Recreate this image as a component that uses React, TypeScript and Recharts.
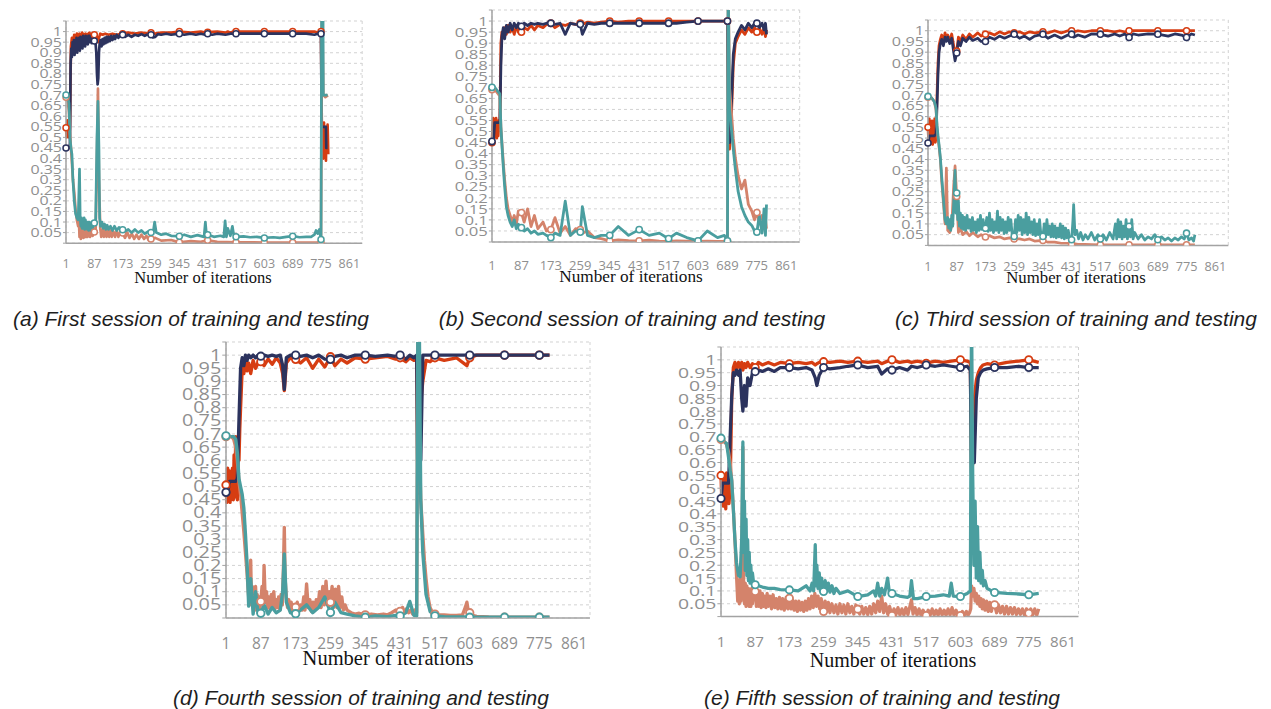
import React from "react"
import { LineChart, Line, XAxis, YAxis, CartesianGrid } from "recharts"

const ORANGE = "#d63d12"
const NAVY = "#2c335e"
const SALMON = "#d4836b"
const TEAL = "#4a9e9f"
const AXIS = "#a3a3a3"
const LABEL = "#8f8f8f"

// axis ticks shared by all five panels
const xLabels = [1, 87, 173, 259, 345, 431, 517, 603, 689, 775, 861]
const xGrid = [44, 130, 216, 302, 388, 474, 560, 646, 732, 818]
const markerIters = [1, 87, 173, 259, 345, 431, 517, 603, 689, 775]
const yTicks = [0, 0.05, 0.1, 0.15, 0.2, 0.25, 0.3, 0.35, 0.4, 0.45, 0.5, 0.55, 0.6, 0.65, 0.7, 0.75, 0.8, 0.85, 0.9, 0.95, 1, 1.05]

// (a) first session
const aIters = [1, 6, 10, 13, 16, 19, 22, 26, 30, 34, 38, 42, 46, 50, 55, 60, 66, 72, 78, 84, 87, 91, 95, 98, 101, 105, 112, 120, 130, 142, 155, 173, 190, 210, 230, 250, 259, 272, 290, 320, 345, 380, 410, 424, 431, 460, 485, 492, 500, 510, 517, 560, 603, 650, 689, 730, 755, 765, 775, 778, 782, 788, 791, 795]
const aTrainAcc = [
  0.545, 0.52, 0.57, 0.5, 0.93, 0.97, 0.95, 0.985, 0.96, 0.99,
  0.97, 0.99, 0.975, 0.995, 0.98, 0.99, 0.985, 0.995, 0.98, 0.99,
  0.985, 0.99, 0.97, 0.95, 0.97, 0.99, 0.985, 0.99, 0.985, 0.99,
  0.985, 0.99, 0.995, 0.99, 0.995, 0.99, 0.995, 0.99, 0.995, 0.995,
  1, 0.995, 1, 0.995, 0.997, 1, 0.995, 1, 0.995, 1,
  1, 1, 1, 1, 1, 1, 1, 0.995, 1, 0.45,
  0.57, 0.4, 0.56, 0.42,
]
const aTrainAccStartX = [1, 3, 5, 7, 9, 11, 13]
const aTrainAccStart = [0.545, 0.5, 0.58, 0.51, 0.57, 0.5, 0.55]
const aTrainAccEndX = [778, 780, 782, 784, 786, 788, 790, 791, 793, 795, 797]
const aTrainAccEnd = [0.45, 0.56, 0.4, 0.57, 0.43, 0.55, 0.39, 0.52, 0.44, 0.56, 0.42]
const aTestAccX = [
  1, 6, 10, 13, 15, 17, 19, 21, 23, 25,
  27, 29, 31, 33, 35, 37, 39, 41, 43, 45,
  47, 49, 51, 53, 55, 57, 59, 61, 63, 65,
  67, 69, 71, 73, 75, 77, 79, 81, 84, 87,
  90, 93, 95, 97, 99, 101, 103, 106, 109, 112,
  115, 118, 121, 124, 127, 130, 134, 138, 142, 146,
  150, 155, 160, 165, 173, 180, 190, 200, 210, 220,
  230, 240, 250, 259, 265, 272, 280, 290, 305, 320,
  345, 360, 380, 395, 410, 424, 431, 445, 460, 485,
  500, 517, 560, 603, 650, 689, 730, 755, 765, 775,
  777, 782, 788, 790, 791, 795,
]
const aTestAcc = [
  0.45, 0.45, 0.45, 0.47, 0.85, 0.92, 0.88, 0.95, 0.9, 0.96,
  0.89, 0.95, 0.91, 0.97, 0.9, 0.96, 0.92, 0.97, 0.91, 0.975,
  0.93, 0.97, 0.92, 0.98, 0.94, 0.975, 0.93, 0.98, 0.945, 0.975,
  0.94, 0.98, 0.95, 0.98, 0.95, 0.975, 0.945, 0.98, 0.95, 0.955,
  0.96, 0.9, 0.8, 0.75, 0.78, 0.9, 0.94, 0.96, 0.93, 0.965,
  0.94, 0.97, 0.945, 0.975, 0.95, 0.975, 0.955, 0.98, 0.96, 0.98,
  0.965, 0.985, 0.97, 0.985, 0.985, 0.975, 0.985, 0.975, 0.985, 0.98,
  0.988, 0.98, 0.988, 0.985, 0.972, 0.975, 0.988, 0.985, 0.99, 0.985,
  0.99, 0.985, 0.99, 0.985, 0.99, 0.985, 0.99, 0.985, 0.99, 0.985,
  0.99, 0.99, 0.99, 0.99, 0.99, 0.99, 0.99, 0.985, 0.99, 0.99,
  0.55, 0.55, 0.55, 0.55, 0.45, 0.45,
]
const aTrainLossX = [
  1, 6, 10, 13, 16, 19, 22, 26, 30, 34,
  38, 40, 42, 44, 46, 48, 50, 52, 54, 56,
  58, 60, 62, 64, 66, 68, 70, 72, 74, 76,
  78, 80, 82, 84, 87, 91, 95, 98, 101, 105,
  108, 112, 116, 120, 124, 128, 132, 136, 140, 145,
  150, 155, 160, 165, 173, 180, 187, 194, 201, 208,
  215, 222, 230, 238, 245, 252, 259, 272, 290, 320,
  345, 380, 410, 431, 460, 490, 517, 560, 603, 650,
  689, 730, 775, 778, 782, 788, 791, 795,
]
const aTrainLoss = [
  0.69, 0.68, 0.62, 0.52, 0.45, 0.38, 0.3, 0.24, 0.16, 0.11,
  0.08, 0.12, 0.03, 0.1, 0.02, 0.11, 0.03, 0.09, 0.025, 0.1,
  0.03, 0.08, 0.03, 0.09, 0.03, 0.08, 0.035, 0.07, 0.03, 0.08,
  0.04, 0.07, 0.035, 0.07, 0.053, 0.06, 0.4, 0.73, 0.3, 0.07,
  0.03, 0.065, 0.03, 0.065, 0.03, 0.06, 0.03, 0.06, 0.03, 0.055,
  0.03, 0.06, 0.03, 0.05, 0.048, 0.025, 0.05, 0.025, 0.045, 0.02,
  0.04, 0.02, 0.04, 0.02, 0.035, 0.015, 0.02, 0.025, 0.012, 0.015,
  0.004, 0.01, 0.006, 0.014, 0.006, 0.005, 0.004, 0.004, 0.003, 0.003,
  0.003, 0.003, 0.003, 1.2, 0.7, 0.69, 0.7, 0.69,
]
const aTestLossX = [
  1, 6, 10, 13, 16, 19, 22, 26, 30, 34,
  38, 42, 44, 46, 48, 50, 52, 54, 56, 58,
  60, 62, 64, 66, 68, 70, 72, 74, 76, 78,
  80, 82, 84, 87, 91, 95, 98, 101, 103, 106,
  110, 114, 118, 122, 126, 130, 136, 142, 148, 155,
  162, 173, 180, 190, 200, 210, 220, 230, 240, 250,
  259, 265, 270, 275, 290, 305, 320, 345, 360, 380,
  400, 420, 424, 428, 431, 450, 470, 480, 484, 488,
  492, 500, 506, 510, 517, 540, 560, 580, 603, 630,
  650, 670, 689, 710, 730, 745, 755, 760, 765, 770,
  775, 777, 781, 782, 788, 791, 795,
]
const aTestLoss = [
  0.7, 0.7, 0.66, 0.5, 0.45, 0.42, 0.3, 0.2, 0.14, 0.12,
  0.11, 0.35, 0.12, 0.08, 0.12, 0.07, 0.11, 0.07, 0.12, 0.065,
  0.11, 0.07, 0.1, 0.065, 0.1, 0.06, 0.1, 0.065, 0.09, 0.06,
  0.1, 0.07, 0.095, 0.095, 0.1, 0.5, 0.67, 0.45, 0.12, 0.08,
  0.1, 0.07, 0.09, 0.065, 0.085, 0.065, 0.08, 0.06, 0.08, 0.06,
  0.075, 0.064, 0.055, 0.065, 0.05, 0.065, 0.05, 0.06, 0.045, 0.055,
  0.051, 0.045, 0.1, 0.05, 0.04, 0.045, 0.035, 0.033, 0.04, 0.03,
  0.038, 0.03, 0.1, 0.03, 0.04, 0.03, 0.035, 0.03, 0.105, 0.03,
  0.07, 0.035, 0.08, 0.04, 0.03, 0.032, 0.028, 0.03, 0.025, 0.028,
  0.025, 0.03, 0.033, 0.028, 0.03, 0.03, 0.04, 0.06, 0.045, 0.065,
  0.017, 1.2, 1.2, 0.7, 0.7, 0.7, 0.7,
]

// (b) second session
const bIters = [1, 5, 9, 14, 19, 24, 27, 30, 34, 38, 43, 48, 54, 60, 66, 72, 78, 87, 95, 105, 115, 125, 135, 150, 160, 173, 185, 200, 215, 230, 245, 259, 265, 280, 300, 320, 345, 370, 400, 431, 460, 490, 517, 540, 570, 603, 630, 660, 680, 689, 691, 695, 700, 706, 712, 720, 730, 740, 750, 760, 768, 775, 782, 790, 796, 800, 803]
const bTrainAcc = [
  0.45, 0.56, 0.48, 0.55, 0.47, 0.52, 0.9, 0.95, 0.93, 0.97,
  0.94, 0.98, 0.95, 0.97, 0.94, 0.98, 0.95, 0.95, 0.97, 0.96,
  0.98, 0.96, 0.98, 0.97, 0.985, 0.99, 0.97, 0.985, 0.98, 0.99,
  0.985, 0.99, 0.985, 0.995, 0.99, 0.995, 1, 0.995, 1, 1,
  1, 1, 1, 1, 1, 1, 1, 1, 1, 1,
  0.7, 0.42, 0.55, 0.8, 0.9, 0.93, 0.96, 0.94, 0.97, 0.95,
  0.97, 0.95, 0.97, 0.94, 0.97, 0.93, 0.96,
]
const bTrainAccStartX = [1, 3, 5, 7, 9, 11, 13, 15, 17, 19, 21, 24]
const bTrainAccStart = [0.45, 0.53, 0.56, 0.47, 0.55, 0.48, 0.56, 0.47, 0.54, 0.48, 0.55, 0.52]
const bTestAcc = [
  0.455, 0.455, 0.54, 0.54, 0.54, 0.54, 0.8, 0.93, 0.97, 0.92,
  0.98, 0.95, 0.99, 0.96, 0.99, 0.97, 0.99, 0.976, 0.99, 0.98,
  0.99, 0.985, 0.99, 0.985, 0.99, 0.99, 0.985, 0.99, 0.94, 0.99,
  0.985, 0.985, 0.94, 0.99, 0.985, 0.99, 0.99, 0.99, 0.99, 0.99,
  0.99, 0.99, 0.99, 0.99, 0.995, 1, 1, 1, 1, 1,
  0.6, 0.45, 0.6, 0.85, 0.92, 0.95, 0.98, 0.96, 0.99, 0.97,
  0.99, 0.99, 0.97, 0.99, 0.96, 0.99, 0.94,
]
const bTrainLoss = [
  0.69, 0.69, 0.69, 0.68, 0.67, 0.66, 0.52, 0.45, 0.36, 0.28,
  0.2, 0.15, 0.12, 0.09, 0.12, 0.08, 0.14, 0.133, 0.09, 0.15,
  0.07, 0.12, 0.06, 0.09, 0.05, 0.056, 0.11, 0.04, 0.07, 0.03,
  0.06, 0.056, 0.04, 0.05, 0.02, 0.015, 0.005, 0.01, 0.006, 0.005,
  0.008, 0.004, 0.003, 0.005, 0.004, 0.003, 0.004, 0.003, 0.003, 0.003,
  1.2, 0.7, 0.6, 0.47, 0.38, 0.3, 0.24, 0.28, 0.17, 0.14,
  0.1, 0.133, 0.09, 0.12, 0.08, 0.1, 0.06,
]
const bTestLoss = [
  0.7, 0.7, 0.7, 0.69, 0.68, 0.67, 0.52, 0.44, 0.34, 0.25,
  0.16, 0.12, 0.09, 0.07, 0.1, 0.06, 0.08, 0.065, 0.05, 0.06,
  0.04, 0.05, 0.035, 0.04, 0.03, 0.02, 0.04, 0.03, 0.185, 0.03,
  0.05, 0.045, 0.16, 0.03, 0.02, 0.03, 0.03, 0.07, 0.03, 0.056,
  0.03, 0.04, 0.015, 0.04, 0.02, 0.005, 0.05, 0.02, 0.03, 0.005,
  1.2, 0.6, 0.52, 0.42, 0.33, 0.23, 0.16, 0.12, 0.09, 0.075,
  0.05, 0.045, 0.12, 0.04, 0.15, 0.03, 0.17,
]

// (c) third session
const cIters = [1, 5, 10, 15, 20, 25, 28, 31, 34, 38, 42, 47, 52, 56, 60, 66, 72, 78, 82, 87, 92, 98, 105, 115, 125, 135, 150, 160, 173, 185, 200, 215, 230, 245, 259, 275, 290, 305, 320, 345, 360, 380, 400, 420, 431, 437, 450, 470, 490, 517, 540, 560, 575, 590, 603, 615, 630, 660, 689, 720, 740, 760, 775, 790, 800]
const cTrainAcc = [
  0.55, 0.5, 0.58, 0.48, 0.56, 0.5, 0.7, 0.85, 0.93, 0.96,
  0.98, 0.95, 0.99, 0.96, 0.98, 0.95, 0.985, 0.93, 0.89, 0.905,
  0.97, 0.95, 0.98, 0.96, 0.985, 0.97, 0.99, 0.975, 0.984, 0.99,
  0.98, 0.995, 0.985, 0.995, 0.99, 0.995, 0.985, 0.995, 0.99, 0.995,
  0.99, 1, 0.99, 1, 1, 0.995, 1, 0.995, 1, 1,
  1, 0.995, 1, 0.995, 1, 1, 1, 1, 1, 1,
  1, 1, 1, 1, 1,
]
const cTrainAccStartX = [1, 3, 5, 7, 9, 11, 13, 15, 17, 19, 21, 23, 25]
const cTrainAccStart = [0.55, 0.48, 0.59, 0.47, 0.57, 0.49, 0.58, 0.47, 0.56, 0.5, 0.59, 0.48, 0.5]
const cTestAcc = [
  0.477, 0.51, 0.51, 0.51, 0.51, 0.52, 0.65, 0.8, 0.9, 0.94,
  0.96, 0.93, 0.97, 0.95, 0.97, 0.94, 0.965, 0.9, 0.86, 0.896,
  0.95, 0.93, 0.965, 0.95, 0.97, 0.955, 0.965, 0.95, 0.95, 0.97,
  0.96, 0.975, 0.965, 0.975, 0.984, 0.965, 0.975, 0.96, 0.975, 0.984,
  0.965, 0.98, 0.965, 0.98, 0.984, 0.97, 0.98, 0.97, 0.985, 0.984,
  0.975, 0.985, 0.975, 0.985, 0.969, 0.985, 0.98, 0.985, 0.984, 0.975,
  0.985, 0.98, 0.969, 0.985, 0.98,
]
const cTrainLoss = [
  0.69, 0.69, 0.69, 0.68, 0.67, 0.63, 0.55, 0.5, 0.46, 0.4,
  0.3, 0.2, 0.1, 0.36, 0.07, 0.06, 0.09, 0.28, 0.37, 0.228,
  0.06, 0.08, 0.05, 0.065, 0.045, 0.06, 0.04, 0.05, 0.039, 0.045,
  0.035, 0.04, 0.03, 0.035, 0.03, 0.03, 0.025, 0.03, 0.02, 0.023,
  0.015, 0.015, 0.01, 0.01, 0.005, 0.008, 0.005, 0.005, 0.004, 0.003,
  0.003, 0.003, 0.003, 0.003, 0.003, 0.003, 0.003, 0.003, 0.003, 0.003,
  0.003, 0.003, 0.003, 0.003, 0.003,
]
const cTestLossX = [
  1, 5, 10, 15, 20, 25, 28, 31, 34, 38,
  42, 47, 52, 56, 60, 63, 66, 69, 72, 75,
  78, 82, 85, 87, 90, 92, 95, 98, 101, 104,
  107, 110, 114, 118, 122, 126, 130, 134, 138, 142,
  146, 150, 154, 158, 162, 166, 170, 173, 177, 181,
  185, 189, 193, 197, 201, 205, 209, 213, 217, 221,
  225, 229, 233, 237, 241, 245, 249, 253, 259, 263,
  267, 271, 275, 279, 283, 287, 291, 295, 299, 303,
  307, 311, 315, 319, 323, 327, 331, 335, 339, 345,
  349, 353, 357, 361, 365, 369, 373, 377, 381, 385,
  389, 393, 397, 401, 405, 409, 413, 417, 421, 425,
  431, 435, 437, 441, 446, 452, 458, 465, 472, 480,
  490, 500, 510, 517, 525, 535, 545, 555, 562, 566,
  570, 574, 578, 582, 586, 590, 594, 598, 603, 607,
  611, 615, 620, 630, 640, 650, 660, 670, 680, 689,
  700, 710, 720, 730, 740, 750, 760, 768, 775, 782,
  790, 796, 800,
]
const cTestLoss = [
  0.694, 0.69, 0.69, 0.68, 0.67, 0.64, 0.56, 0.51, 0.47, 0.41,
  0.32, 0.22, 0.12, 0.1, 0.13, 0.08, 0.12, 0.07, 0.14, 0.09,
  0.2, 0.35, 0.15, 0.244, 0.12, 0.21, 0.09, 0.15, 0.08, 0.14,
  0.075, 0.13, 0.07, 0.14, 0.08, 0.12, 0.065, 0.13, 0.07, 0.11,
  0.06, 0.12, 0.07, 0.14, 0.075, 0.12, 0.07, 0.08, 0.13, 0.065,
  0.15, 0.07, 0.12, 0.06, 0.11, 0.07, 0.16, 0.06, 0.13, 0.07,
  0.12, 0.055, 0.11, 0.06, 0.13, 0.07, 0.12, 0.05, 0.042, 0.12,
  0.06, 0.14, 0.07, 0.13, 0.05, 0.12, 0.06, 0.15, 0.05, 0.13,
  0.06, 0.11, 0.05, 0.12, 0.045, 0.1, 0.05, 0.12, 0.05, 0.042,
  0.1, 0.04, 0.12, 0.05, 0.09, 0.04, 0.1, 0.04, 0.09, 0.035,
  0.08, 0.04, 0.1, 0.035, 0.09, 0.03, 0.08, 0.035, 0.07, 0.03,
  0.026, 0.12, 0.19, 0.05, 0.07, 0.03, 0.06, 0.025, 0.05, 0.03,
  0.06, 0.025, 0.05, 0.03, 0.05, 0.025, 0.06, 0.03, 0.1, 0.03,
  0.12, 0.04, 0.11, 0.03, 0.09, 0.04, 0.12, 0.03, 0.089, 0.04,
  0.12, 0.03, 0.06, 0.03, 0.05, 0.025, 0.04, 0.03, 0.05, 0.026,
  0.04, 0.025, 0.035, 0.02, 0.035, 0.025, 0.04, 0.03, 0.057, 0.025,
  0.035, 0.02, 0.05,
]

// (d) fourth session
const dIters = [1, 5, 10, 15, 20, 25, 29, 33, 37, 41, 45, 49, 53, 57, 62, 68, 74, 80, 87, 95, 105, 115, 125, 135, 141, 145, 150, 160, 173, 185, 200, 215, 230, 245, 259, 270, 285, 300, 320, 345, 370, 400, 420, 431, 445, 455, 465, 472, 475, 478, 482, 487, 495, 505, 517, 540, 570, 596, 603, 620, 650, 689, 730, 775, 800]
const dTrainAcc = [
  0.506, 0.45, 0.56, 0.46, 0.55, 0.69, 0.45, 0.6, 0.8, 0.95,
  0.93, 0.98, 0.94, 0.97, 0.93, 0.98, 0.95, 0.97, 0.975, 0.96,
  0.985, 0.965, 0.99, 0.97, 0.93, 0.865, 0.97, 0.99, 0.984, 0.97,
  0.99, 0.95, 0.985, 0.955, 0.994, 0.96, 0.985, 0.97, 0.99, 0.985,
  0.99, 0.995, 0.985, 0.99, 0.975, 0.99, 0.98, 0.99, 0.5, 0.6,
  0.82, 0.9, 0.98, 0.975, 0.99, 0.98, 0.99, 0.96, 0.99, 1,
  1, 1, 1, 1, 1,
]
const dTrainAccStartX = [1, 3, 5, 7, 9, 11, 13, 15, 17, 19, 21, 23, 25, 27, 29, 31, 33, 35, 37]
const dTrainAccStart = [0.506, 0.44, 0.57, 0.45, 0.56, 0.44, 0.55, 0.46, 0.57, 0.45, 0.62, 0.46, 0.69, 0.5, 0.45, 0.65, 0.6, 0.72, 0.8]
const dTestAcc = [
  0.478, 0.478, 0.52, 0.52, 0.52, 0.52, 0.53, 0.75, 0.95, 0.99,
  0.96, 1, 0.98, 1, 0.99, 1, 0.99, 1, 0.996, 1,
  0.995, 1, 0.995, 1, 0.96, 0.87, 0.99, 1, 1, 0.995,
  1, 0.99, 1, 0.985, 0.984, 0.995, 1, 0.99, 1, 1,
  0.995, 1, 0.995, 1, 0.985, 1, 0.99, 1, 0.475, 0.95,
  0.6, 1, 1, 1, 1, 1, 1, 1, 1, 1,
  1, 1, 1, 1, 1,
]
const dTrainLossX = [
  1, 5, 10, 15, 20, 25, 29, 33, 37, 41,
  45, 49, 53, 57, 60, 62, 64, 66, 68, 70,
  72, 74, 76, 78, 80, 83, 85, 87, 90, 93,
  95, 98, 101, 104, 107, 110, 113, 116, 119, 122,
  125, 128, 131, 134, 137, 140, 143, 145, 147, 150,
  153, 156, 159, 162, 165, 168, 173, 177, 181, 185,
  189, 193, 196, 200, 204, 208, 212, 216, 220, 224,
  228, 232, 236, 240, 244, 248, 252, 256, 259, 263,
  267, 271, 275, 279, 283, 287, 291, 295, 300, 310,
  320, 330, 345, 360, 375, 390, 400, 410, 420, 425,
  431, 437, 442, 447, 452, 457, 462, 467, 472, 475,
  478, 482, 487, 491, 495, 500, 505, 511, 517, 525,
  540, 555, 570, 585, 592, 596, 599, 603, 610, 620,
  650, 689, 730, 775, 800,
]
const dTrainLoss = [
  0.69, 0.69, 0.69, 0.69, 0.68, 0.65, 0.6, 0.52, 0.47, 0.4,
  0.33, 0.25, 0.17, 0.08, 0.15, 0.22, 0.05, 0.12, 0.04, 0.1,
  0.03, 0.12, 0.04, 0.09, 0.05, 0.08, 0.04, 0.063, 0.12, 0.05,
  0.2, 0.06, 0.1, 0.04, 0.08, 0.03, 0.09, 0.04, 0.1, 0.035,
  0.07, 0.04, 0.08, 0.03, 0.09, 0.05, 0.2, 0.345, 0.15, 0.08,
  0.04, 0.07, 0.03, 0.06, 0.025, 0.05, 0.041, 0.06, 0.025, 0.05,
  0.03, 0.08, 0.03, 0.13, 0.04, 0.07, 0.025, 0.06, 0.03, 0.07,
  0.04, 0.1, 0.04, 0.12, 0.05, 0.14, 0.05, 0.1, 0.06, 0.12,
  0.04, 0.11, 0.04, 0.12, 0.04, 0.08, 0.03, 0.05, 0.03, 0.02,
  0.015, 0.018, 0.012, 0.015, 0.012, 0.015, 0.012, 0.02, 0.03, 0.02,
  0.025, 0.04, 0.02, 0.035, 0.02, 0.03, 0.015, 0.03, 0.02, 1.2,
  0.7, 0.45, 0.32, 0.22, 0.15, 0.08, 0.04, 0.02, 0.015, 0.012,
  0.012, 0.01, 0.01, 0.012, 0.04, 0.06, 0.03, 0.02, 0.01, 0.006,
  0.004, 0.003, 0.003, 0.003, 0.003,
]
const dTestLoss = [
  0.693, 0.69, 0.69, 0.69, 0.69, 0.68, 0.63, 0.53, 0.5, 0.47,
  0.42, 0.32, 0.21, 0.045, 0.15, 0.015, 0.1, 0.02, 0.018, 0.05,
  0.015, 0.04, 0.02, 0.03, 0.1, 0.244, 0.06, 0.02, 0.016, 0.03,
  0.05, 0.02, 0.04, 0.08, 0.021, 0.06, 0.02, 0.015, 0.008, 0.003,
  0.008, 0.005, 0.01, 0.008, 0.02, 0.063, 0.01, 0.008, 1.2, 1.2,
  0.45, 0.25, 0.09, 0.025, 0.008, 0.005, 0.004, 0.004, 0.003, 0.003,
  0.003, 0.003, 0.003, 0.003, 0.003,
]

// (e) fifth session
const eIters = [1, 5, 10, 15, 20, 24, 28, 32, 36, 40, 45, 49, 53, 56, 60, 64, 68, 74, 80, 87, 95, 105, 120, 135, 150, 173, 195, 215, 230, 238, 242, 248, 259, 275, 300, 320, 345, 370, 395, 405, 420, 431, 450, 470, 480, 495, 517, 540, 560, 580, 603, 620, 628, 631, 634, 638, 643, 648, 654, 660, 670, 689, 720, 750, 775, 800]
const eTrainAcc = [
  0.55, 0.45, 0.55, 0.43, 0.56, 0.5, 0.85, 0.97, 0.99, 0.96,
  0.99, 0.97, 0.99, 0.96, 0.985, 0.97, 0.99, 0.97, 0.985, 0.97,
  0.99, 0.98, 0.99, 0.98, 0.99, 0.985, 0.99, 0.985, 0.99, 0.98,
  0.985, 0.99, 0.993, 0.99, 0.995, 0.99, 0.995, 0.99, 0.995, 0.985,
  0.995, 1, 0.99, 0.995, 0.99, 0.995, 0.987, 0.995, 0.99, 0.995,
  1, 0.995, 0.99, 0.55, 0.6, 0.85, 0.92, 0.95, 0.97, 0.98,
  0.985, 0.98, 0.99, 0.995, 1, 0.99,
]
const eTrainAccStartX = [1, 3, 5, 7, 9, 11, 13, 15, 17, 19, 21, 24]
const eTrainAccStart = [0.55, 0.45, 0.54, 0.43, 0.55, 0.46, 0.42, 0.56, 0.47, 0.53, 0.44, 0.5]
const eTestAcc = [
  0.46, 0.52, 0.52, 0.52, 0.52, 0.7, 0.86, 0.95, 0.94, 0.96,
  0.94, 0.96, 0.85, 0.8, 0.9, 0.82, 0.93, 0.9, 0.95, 0.954,
  0.96, 0.955, 0.965, 0.955, 0.97, 0.97, 0.965, 0.97, 0.96, 0.93,
  0.9, 0.94, 0.97, 0.965, 0.97, 0.975, 0.98, 0.97, 0.975, 0.945,
  0.965, 0.96, 0.97, 0.96, 0.975, 0.97, 0.98, 0.975, 0.98, 0.975,
  0.97, 0.975, 0.96, 0.56, 0.7, 0.6, 0.85, 0.93, 0.95, 0.96,
  0.965, 0.97, 0.97, 0.975, 0.97, 0.97,
]
const eTrainLossX = [
  1, 5, 10, 15, 20, 24, 28, 32, 36, 40,
  43, 45, 47, 49, 51, 53, 56, 58, 60, 62,
  64, 66, 68, 70, 72, 74, 76, 78, 80, 83,
  87, 90, 93, 96, 99, 102, 105, 108, 111, 114,
  117, 120, 124, 128, 132, 136, 140, 144, 148, 152,
  156, 160, 165, 169, 173, 177, 181, 185, 189, 193,
  197, 201, 205, 209, 213, 217, 221, 225, 229, 233,
  237, 241, 245, 249, 253, 259, 263, 267, 271, 275,
  280, 285, 290, 295, 300, 305, 310, 315, 320, 325,
  330, 335, 340, 345, 350, 355, 360, 365, 370, 375,
  380, 385, 390, 395, 400, 405, 410, 415, 420, 425,
  431, 436, 441, 446, 451, 456, 461, 466, 471, 476,
  480, 484, 489, 494, 499, 504, 509, 517, 522, 527,
  532, 537, 542, 547, 552, 557, 562, 567, 572, 577,
  582, 587, 592, 597, 603, 608, 613, 618, 622, 626,
  629, 631, 634, 637, 640, 643, 646, 649, 652, 655,
  658, 661, 665, 669, 673, 677, 681, 685, 689, 694,
  699, 704, 709, 714, 719, 724, 729, 734, 739, 744,
  749, 754, 759, 764, 769, 775, 780, 785, 790, 795,
  800,
]
const eTrainLoss = [
  0.69, 0.69, 0.68, 0.67, 0.64, 0.6, 0.53, 0.42, 0.3, 0.16,
  0.06, 0.14, 0.05, 0.15, 0.06, 0.12, 0.66, 0.1, 0.05, 0.13,
  0.04, 0.12, 0.05, 0.11, 0.04, 0.1, 0.04, 0.11, 0.05, 0.1,
  0.098, 0.04, 0.09, 0.04, 0.1, 0.035, 0.09, 0.04, 0.08, 0.035,
  0.09, 0.04, 0.08, 0.03, 0.085, 0.035, 0.07, 0.03, 0.075, 0.03,
  0.07, 0.025, 0.075, 0.03, 0.072, 0.03, 0.065, 0.025, 0.06, 0.02,
  0.06, 0.025, 0.055, 0.02, 0.06, 0.025, 0.07, 0.03, 0.08, 0.035,
  0.09, 0.04, 0.08, 0.03, 0.07, 0.02, 0.06, 0.02, 0.055, 0.015,
  0.05, 0.015, 0.045, 0.01, 0.05, 0.015, 0.045, 0.01, 0.05, 0.015,
  0.04, 0.01, 0.045, 0.029, 0.01, 0.04, 0.01, 0.035, 0.008, 0.04,
  0.01, 0.05, 0.015, 0.06, 0.02, 0.08, 0.015, 0.05, 0.01, 0.04,
  0.004, 0.03, 0.008, 0.035, 0.006, 0.03, 0.006, 0.035, 0.008, 0.04,
  0.065, 0.01, 0.035, 0.006, 0.03, 0.005, 0.025, 0.004, 0.025, 0.005,
  0.03, 0.006, 0.025, 0.005, 0.03, 0.006, 0.025, 0.005, 0.03, 0.006,
  0.035, 0.005, 0.025, 0.005, 0.004, 0.02, 0.005, 0.02, 0.005, 0.015,
  0.03, 0.12, 0.08, 0.11, 0.06, 0.09, 0.05, 0.08, 0.04, 0.07,
  0.03, 0.065, 0.025, 0.06, 0.02, 0.055, 0.02, 0.05, 0.046, 0.015,
  0.045, 0.015, 0.04, 0.01, 0.04, 0.01, 0.035, 0.01, 0.035, 0.008,
  0.03, 0.008, 0.03, 0.006, 0.03, 0.013, 0.03, 0.006, 0.03, 0.005,
  0.03,
]
const eTestLossX = [
  1, 5, 10, 15, 20, 24, 28, 32, 36, 40,
  45, 49, 53, 56, 58, 60, 62, 64, 66, 68,
  70, 72, 74, 76, 78, 80, 83, 87, 95, 105,
  120, 135, 150, 173, 195, 215, 225, 230, 234, 238,
  240, 242, 245, 248, 251, 254, 257, 259, 263, 267,
  271, 275, 280, 285, 290, 300, 320, 345, 370, 385,
  390, 395, 400, 405, 412, 420, 425, 431, 450, 470,
  476, 480, 485, 495, 517, 540, 560, 575, 580, 585,
  603, 620, 628, 631, 634, 637, 640, 643, 646, 649,
  652, 655, 658, 661, 665, 670, 689, 720, 750, 775,
  800,
]
const eTestLoss = [
  0.695, 0.69, 0.68, 0.675, 0.62, 0.57, 0.53, 0.42, 0.3, 0.21,
  0.16, 0.155, 0.3, 0.68, 0.25, 0.45, 0.18, 0.38, 0.16, 0.3,
  0.14, 0.25, 0.13, 0.2, 0.13, 0.17, 0.13, 0.124, 0.12, 0.115,
  0.11, 0.11, 0.105, 0.104, 0.1, 0.12, 0.1, 0.13, 0.1, 0.28,
  0.12, 0.2, 0.11, 0.17, 0.1, 0.15, 0.1, 0.098, 0.14, 0.1,
  0.13, 0.095, 0.12, 0.09, 0.11, 0.09, 0.1, 0.078, 0.085, 0.1,
  0.08, 0.13, 0.08, 0.11, 0.085, 0.15, 0.085, 0.09, 0.08, 0.075,
  0.08, 0.14, 0.07, 0.07, 0.078, 0.08, 0.085, 0.08, 0.13, 0.08,
  0.078, 0.09, 0.1, 1.2, 0.55, 0.2, 0.45, 0.15, 0.35, 0.14,
  0.25, 0.13, 0.18, 0.12, 0.14, 0.11, 0.094, 0.09, 0.088, 0.085,
  0.09,
]

function YTick(props: any) {
  const { x, y, payload, k } = props
  const v = payload.value
  if (v === 0 || v > 1.01) return <g />
  return (
    <text
      transform={`translate(${x},${y}) scale(1.28,1)`}
      textAnchor="end"
      dy="0.36em"
      fontSize={12.5 * k}
      fill={LABEL}
      fontFamily="Open Sans"
    >
      {String(Number(v.toFixed(2)))}
    </text>
  )
}

function Panel(props: any) {
  const { box, k, series, labelOff, title, caption } = props
  const yw = 60
  const mt = 4
  const mr = 6
  const mb = 32 * k
  const sw = 2.7 * k
  const xFont = 12.5 * k
  const dot = (color: string) => (p: any) =>
    markerIters.includes(p.payload.x) ? (
      <circle key={p.index} cx={p.cx} cy={p.cy} r={3 * k} fill="#fff" stroke={color} strokeWidth={1.5 * k} />
    ) : (
      <g key={p.index} />
    )

  return (
    <>
      <div style={{ position: "absolute", left: box.left - yw, top: box.top - mt }}>
        <LineChart
          width={box.w + yw + mr}
          height={box.h + mt + mb}
          margin={{ top: mt, right: mr, bottom: 0, left: 0 }}
        >
          <XAxis
            xAxisId="grid"
            dataKey="x"
            type="number"
            domain={[1, 900]}
            ticks={xGrid}
            interval={0}
            height={0}
            axisLine={false}
            tickSize={5 * k}
            tickLine={{ stroke: AXIS, strokeWidth: 1 }}
            tick={() => <g />}
          />
          <XAxis
            xAxisId="lab"
            dataKey="x"
            type="number"
            domain={[1, 900]}
            ticks={xLabels}
            interval={0}
            height={mb}
            tickSize={0}
            tickMargin={labelOff - 0.353 * xFont}
            tickLine={false}
            axisLine={{ stroke: AXIS, strokeWidth: 1.5 }}
            tick={{ fill: LABEL, fontSize: xFont, fontFamily: "Open Sans" }}
          />
          <YAxis
            type="number"
            domain={[0, 1.05]}
            ticks={yTicks}
            interval={0}
            allowDataOverflow
            width={yw}
            tickSize={3 * k}
            tickMargin={1}
            tickLine={{ stroke: AXIS }}
            axisLine={{ stroke: AXIS, strokeWidth: 1.5 }}
            tick={(p: any) => <YTick {...p} k={k} />}
          />
          <CartesianGrid xAxisId="grid" stroke="#d2d2d2" strokeDasharray="3 3" />
          {series.map((s: any, i: number) => (
            <Line
              key={i}
              xAxisId="lab"
              type="linear"
              data={s.xs.map((x: number, j: number) => ({ x, y: s.ys[j] }))}
              dataKey="y"
              stroke={s.color}
              strokeWidth={sw}
              strokeLinejoin="round"
              dot={dot(s.color)}
              activeDot={false}
              isAnimationActive={false}
            />
          ))}
        </LineChart>
      </div>
      <div
        style={{
          position: "absolute",
          left: title.x,
          top: title.y,
          transform: "translate(-50%, -50%)",
          whiteSpace: "nowrap",
          fontFamily: "'Liberation Serif', serif",
          fontSize: 16.5 * k,
          lineHeight: 1,
          color: "#111",
        }}
      >
        Number of iterations
      </div>
      <div
        style={{
          position: "absolute",
          left: caption.x,
          top: caption.y,
          transform: "translate(-50%, -50%)",
          whiteSpace: "nowrap",
          fontFamily: "'Liberation Sans', Arial, sans-serif",
          fontStyle: "italic",
          fontSize: 21,
          lineHeight: 1,
          color: "#1e1e1e",
        }}
      >
        {caption.text}
      </div>
    </>
  )
}

export default function App() {
  return (
    <div style={{ position: "absolute", left: 0, top: 0, width: 1271, height: 709, background: "#fff", overflow: "hidden" }}>
      <Panel
        box={{ left: 65.8, top: 21.4, w: 296.2, h: 222.2 }}
        k={1}
        series={[
          {
            xs: aTrainAccStartX.concat(aIters.slice(4, 59), aTrainAccEndX),
            ys: aTrainAccStart.concat(aTrainAcc.slice(4, 59), aTrainAccEnd),
            color: ORANGE,
          },
          { xs: aTestAccX, ys: aTestAcc, color: NAVY },
          { xs: aTrainLossX, ys: aTrainLoss, color: SALMON },
          { xs: aTestLossX, ys: aTestLoss, color: TEAL },
        ]}
        labelOff={20.7}
        title={{ x: 203, y: 278 }}
        caption={{ x: 191, y: 318, text: "(a) First session of training and testing" }}
      />
      <Panel
        box={{ left: 492.3, top: 9.7, w: 307.7, h: 232 }}
        k={1.044}
        series={[
          {
            xs: bTrainAccStartX.concat(bIters.slice(6)),
            ys: bTrainAccStart.concat(bTrainAcc.slice(6)),
            color: ORANGE,
          },
          { xs: bIters, ys: bTestAcc, color: NAVY },
          { xs: bIters, ys: bTrainLoss, color: SALMON },
          { xs: bIters, ys: bTestLoss, color: TEAL },
        ]}
        labelOff={23.3}
        title={{ x: 631, y: 277 }}
        caption={{ x: 632, y: 318, text: "(b) Second session of training and testing" }}
      />
      <Panel
        box={{ left: 928, top: 20.3, w: 300.3, h: 225.4 }}
        k={1.015}
        series={[
          {
            xs: cTrainAccStartX.concat(cIters.slice(6)),
            ys: cTrainAccStart.concat(cTrainAcc.slice(6)),
            color: ORANGE,
          },
          { xs: cIters, ys: cTestAcc, color: NAVY },
          { xs: cIters, ys: cTrainLoss, color: SALMON },
          { xs: cTestLossX, ys: cTestLoss, color: TEAL },
        ]}
        labelOff={21}
        title={{ x: 1076, y: 278 }}
        caption={{ x: 1076, y: 318, text: "(c) Third session of training and testing" }}
      />
      <Panel
        box={{ left: 225.5, top: 342.2, w: 364, h: 276 }}
        k={1.243}
        series={[
          {
            xs: dTrainAccStartX.concat(dIters.slice(9)),
            ys: dTrainAccStart.concat(dTrainAcc.slice(9)),
            color: ORANGE,
          },
          { xs: dIters, ys: dTestAcc, color: NAVY },
          { xs: dTrainLossX, ys: dTrainLoss, color: SALMON },
          { xs: dIters, ys: dTestLoss, color: TEAL },
        ]}
        labelOff={25}
        title={{ x: 388, y: 658 }}
        caption={{ x: 361, y: 697, text: "(d) Fourth session of training and testing" }}
      />
      <Panel
        box={{ left: 721, top: 347.2, w: 357.5, h: 269.6 }}
        k={1.213}
        series={[
          {
            xs: eTrainAccStartX.concat(eIters.slice(6)),
            ys: eTrainAccStart.concat(eTrainAcc.slice(6)),
            color: ORANGE,
          },
          { xs: eIters, ys: eTestAcc, color: NAVY },
          { xs: eTrainLossX, ys: eTrainLoss, color: SALMON },
          { xs: eTestLossX, ys: eTestLoss, color: TEAL },
        ]}
        labelOff={25}
        title={{ x: 893, y: 660 }}
        caption={{ x: 882, y: 697, text: "(e) Fifth session of training and testing" }}
      />
    </div>
  )
}
